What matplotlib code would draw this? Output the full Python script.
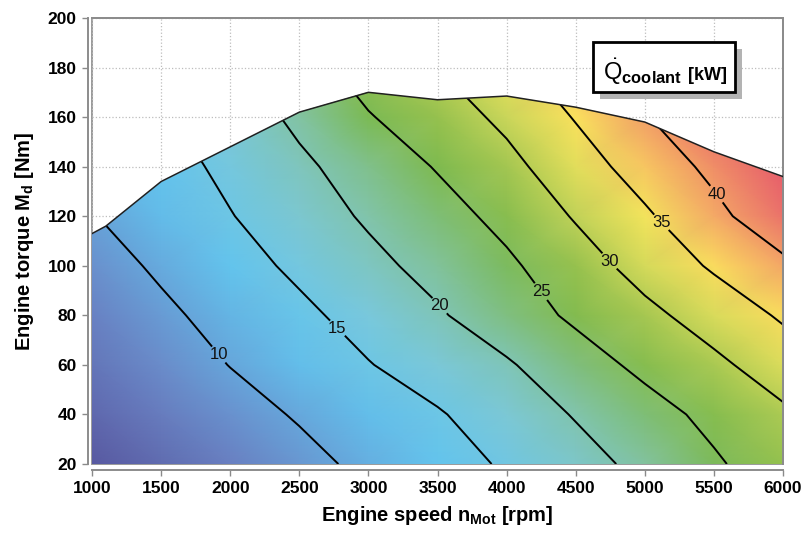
import numpy as np
import matplotlib
matplotlib.use("Agg")
import matplotlib.pyplot as plt
from matplotlib.colors import LinearSegmentedColormap, Normalize
from matplotlib.patches import Polygon, Rectangle

plt.rcParams['font.family'] = ['Liberation Sans', 'DejaVu Sans']
plt.rcParams['font.weight'] = 'bold'
plt.rcParams['mathtext.fontset'] = 'custom'
plt.rcParams['mathtext.rm'] = 'Liberation Sans:normal'
plt.rcParams['mathtext.bf'] = 'Liberation Sans:bold'

# engine map grid
speed_rpm = [1000, 1500, 2000, 2500, 3000, 3500, 4000, 4500, 5000, 5500, 6000]
torque_nm = [20, 40, 60, 80, 100, 120, 140, 160, 180]
q_coolant = [
    [2.5, 4.3, 6.5, 8.7, 11.0, 13.2, 15.5, 18.3, 21.2, 24.4, 27.6],
    [4.1, 6.2, 8.3, 10.4, 12.5, 14.6, 17.4, 20.3, 23.2, 26.2, 29.2],
    [5.4, 7.7, 10.1, 12.4, 14.8, 17.2, 19.5, 22.9, 26.1, 29.0, 32.4],
    [6.7, 9.1, 11.6, 14.0, 16.7, 19.5, 22.6, 25.8, 28.8, 32.1, 35.6],
    [8.1, 10.7, 13.2, 15.9, 18.8, 21.5, 24.2, 27.8, 31.8, 35.6, 39.0],
    [9.8, 12.3, 14.8, 17.7, 20.6, 23.2, 26.3, 30.4, 34.3, 38.8, 43.2],
    [11.5, 13.1, 16.1, 19.1, 22.2, 25.3, 28.7, 32.8, 37.1, 41.1, 45.0],
    [13.0, 14.5, 17.3, 21.0, 24.7, 27.7, 31.0, 35.3, 39.7, 44.0, 48.0],
    [14.5, 16.0, 18.8, 23.0, 27.0, 30.0, 33.5, 38.0, 42.0, 46.0, 50.0],
]

# full load curve
full_load_speed = [1000, 1100, 1500, 2000, 2500, 3000, 3500, 4000, 4500, 5000, 5500, 6000]
full_load_torque = [113, 116, 134, 148, 162, 170, 167, 168.5, 164, 158, 146, 136]

contour_levels = [10, 15, 20, 25, 30, 35, 40]
label_spots = [(1912, 64), (2780, 75), (3518, 84), (4292, 91),
               (4734, 101.5), (5124, 117.7), (5521, 129)]

# colour stops given as coolant heat values
vmin, vmax = 2, 47
stops = [(2, "#57569e"), (7, "#6b85c6"), (13, "#62c4ee"), (17, "#7bc8da"),
         (21, "#82c3a4"), (25, "#7bb94f"), (28, "#98c24e"), (31, "#cbd65a"),
         (35, "#fbe75c"), (39, "#f4a866"), (42, "#ee8468"), (45, "#e65a6c"),
         (47, "#e2506c")]
cmap = LinearSegmentedColormap.from_list(
    "coolant", [((v - vmin) / (vmax - vmin), c) for v, c in stops])
norm = Normalize(vmin=vmin, vmax=vmax)

X, Y = np.meshgrid(speed_rpm, torque_nm)
Z = np.array(q_coolant)

fig = plt.figure(figsize=(8.05, 5.4), dpi=100)
ax = fig.add_axes([0.1143, 0.1407, 0.8584, 0.826])

ax.grid(True, linestyle=':', color='#bdbdbd', linewidth=0.9)
ax.set_axisbelow(True)

outline = list(zip(full_load_speed, full_load_torque)) + [(6000, 20), (1000, 20)]
clip = Polygon(outline, closed=True, transform=ax.transData, facecolor='none', edgecolor='none')
ax.add_patch(clip)

mesh = ax.pcolormesh(X, Y, Z, shading='gouraud', cmap=cmap, norm=norm, zorder=1)
mesh.set_clip_path(clip)

cs = ax.contour(X, Y, Z, levels=contour_levels, colors='black', linewidths=1.4, zorder=2)
cs.set_clip_path(clip)
labels = ax.clabel(cs, fmt='%d', fontsize=12, inline=True, inline_spacing=2, manual=label_spots)
for t in labels:
    t.set_rotation(0)
    t.set_fontweight('normal')
    t.set_color('#111111')

ax.plot(full_load_speed, full_load_torque, color='#202020', linewidth=1.1, zorder=3)

ax.set_xlim(1000, 6000)
ax.set_ylim(20, 200)
ax.set_xticks(range(1000, 6001, 500))
ax.set_yticks(range(20, 201, 20))
ax.tick_params(direction='out', length=4, width=1, color='#8a8a8a', labelsize=12.5, pad=4)

for side in ['top', 'right', 'left', 'bottom']:
    ax.spines[side].set_color('#8c8c8c')
    ax.spines[side].set_linewidth(1.4)
ax.spines['left'].set_position(('outward', 3))
ax.spines['bottom'].set_position(('outward', 4))
ax.patch.set_edgecolor('#9a9a9a')
ax.patch.set_linewidth(1.4)

ax.set_xlabel(r'Engine speed n$_\mathbf{Mot}$ [rpm]', fontsize=14.5, fontweight='bold', labelpad=6)
ax.set_ylabel(r'Engine torque M$_\mathbf{d}$ [Nm]', fontsize=14.5, fontweight='bold', labelpad=8)

# label box with drop shadow
ax.add_patch(Rectangle((0.735, 0.818), 0.205, 0.112, transform=ax.transAxes,
                       facecolor='#b3b3b3', edgecolor='none', zorder=5))
ax.add_patch(Rectangle((0.725, 0.834), 0.205, 0.112, transform=ax.transAxes,
                       facecolor='white', edgecolor='black', linewidth=2, zorder=6))
ax.text(0.739, 0.862, r'$\dot{\mathrm{Q}}_{\mathbf{coolant}}$', transform=ax.transAxes,
        fontsize=17, fontweight='normal', ha='left', va='baseline', zorder=7)
ax.text(0.862, 0.862, '[kW]', transform=ax.transAxes, fontsize=13, fontweight='bold',
        ha='left', va='baseline', zorder=7)

fig.savefig('out.png', dpi=100)
